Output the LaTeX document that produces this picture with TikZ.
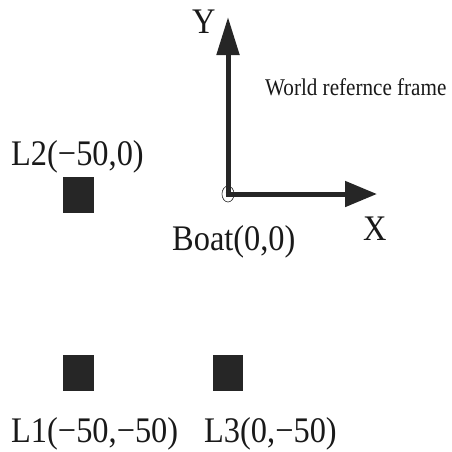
\documentclass[tikz,border=0pt]{standalone}
\usepackage{fontspec}
\setmainfont{Liberation Serif}
\usetikzlibrary{arrows.meta}
\newcommand{\bigtxt}[1]{\scalebox{0.9}[1]{\fontsize{36}{40}\selectfont #1}}
\newcommand{\smalltxt}[1]{\scalebox{0.88}[1]{\fontsize{24}{28}\selectfont #1}}
\tikzset{
  lbl/.style={inner sep=0pt, anchor=base west, text=black!90},
  lmsq/.style={fill=black!85, draw=none},
  axisline/.style={draw=black!85, line width=5pt},
  originmk/.style={draw=black!85, line width=0.6pt}
}
\begin{document}
\begin{tikzpicture}[x=1pt,y=-1pt]
\useasboundingbox (0,0) rectangle (452,451);
% origin
\coordinate (o) at (228,194);
\coordinate (xtip) at (377,194);
\coordinate (ytip) at (228,17);
\draw[originmk] (o) ellipse [x radius=6, y radius=8];
\draw[axisline, -{Triangle[length=32pt,width=25pt]}] ([xshift=-2.5pt]o) -- (xtip);
\draw[axisline, -{Triangle[length=38pt,width=22pt]}] ([yshift=-2.5pt]o) -- (ytip);
% axis labels
\node[lbl] (ylbl) at (192,33) {\bigtxt{Y}};
\node[lbl] (xlbl) at (363,240) {\bigtxt{X}};
\node[lbl] (boat) at (172,250) {\bigtxt{Boat(0,0)}};
\node[lbl] (world) at (265,95) {\smalltxt{World refernce frame}};
% landmarks
\fill[lmsq] (63,177) rectangle (94,213);
\fill[lmsq] (63,355) rectangle (94,391);
\fill[lmsq] (213,355) rectangle (243,391);
\node[lbl] (l2) at (11,165) {\bigtxt{L2(−50,0)}};
\node[lbl] (l1) at (11,442) {\bigtxt{L1(−50,−50)}};
\node[lbl] (l3) at (204,442) {\bigtxt{L3(0,−50)}};
\end{tikzpicture}
\end{document}
